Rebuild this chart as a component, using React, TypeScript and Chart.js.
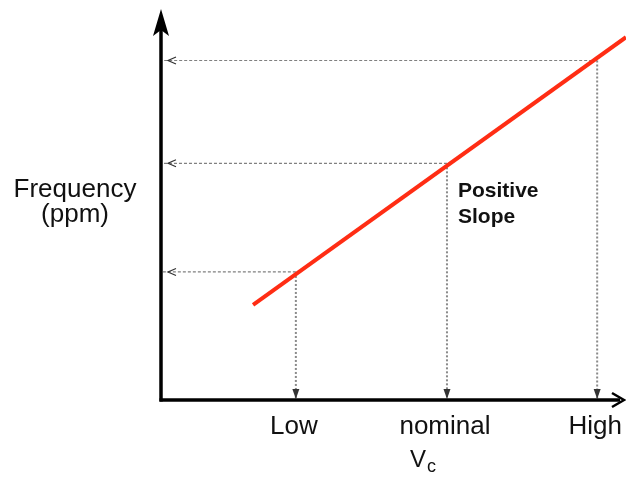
import React, { useEffect, useRef } from "react";
import { Chart, registerables } from "chart.js";

Chart.register(...registerables);

const lineX = [1.98, 10];
const lineY = [2.45, 9.35];
const markLabels = ["Low", "nominal", "High"];
const markX = [2.9, 6.15, 9.38];
const markY = [3.3, 6.1, 8.75];
const yTitle = ["Frequency", "(ppm)"];
const slopeText = ["Positive", "Slope"];

const FONT = "'Liberation Sans', Arial, sans-serif";

const diagramPlugin = {
  id: "diagram",
  beforeDatasetsDraw(chart: any) {
    const ctx = chart.ctx;
    const xs = chart.scales.x;
    const ys = chart.scales.y;
    const x0 = xs.getPixelForValue(0);
    const y0 = ys.getPixelForValue(0);
    ctx.save();
    for (let i = 0; i < markX.length; i++) {
      const px = xs.getPixelForValue(markX[i]);
      const py = ys.getPixelForValue(markY[i]);
      // horizontal to y axis
      ctx.strokeStyle = "#808080";
      ctx.lineWidth = 1.2;
      ctx.setLineDash([3, 2]);
      ctx.beginPath();
      ctx.moveTo(px, py);
      ctx.lineTo(x0 + 2, py);
      ctx.stroke();
      ctx.setLineDash([]);
      ctx.strokeStyle = "#333";
      ctx.beginPath();
      ctx.moveTo(x0 + 15, py - 3.5);
      ctx.lineTo(x0 + 7, py);
      ctx.lineTo(x0 + 15, py + 3.5);
      ctx.stroke();
      // vertical to x axis
      ctx.strokeStyle = "#8a8a8a";
      ctx.lineWidth = 2;
      ctx.setLineDash([2, 2]);
      ctx.beginPath();
      ctx.moveTo(px, py);
      ctx.lineTo(px, y0 - 2);
      ctx.stroke();
      ctx.setLineDash([]);
      ctx.fillStyle = "#333";
      ctx.beginPath();
      ctx.moveTo(px - 3.5, y0 - 11);
      ctx.lineTo(px + 3.5, y0 - 11);
      ctx.lineTo(px, y0 - 1);
      ctx.closePath();
      ctx.fill();
    }
    ctx.restore();
  },
  afterDatasetsDraw(chart: any) {
    const ctx = chart.ctx;
    const xs = chart.scales.x;
    const ys = chart.scales.y;
    const x0 = xs.getPixelForValue(0);
    const y0 = ys.getPixelForValue(0);
    const top = chart.chartArea.top;
    const right = chart.chartArea.right;
    ctx.save();
    // axes
    ctx.strokeStyle = "#000";
    ctx.fillStyle = "#000";
    ctx.lineWidth = 3.5;
    ctx.lineCap = "butt";
    ctx.beginPath();
    ctx.moveTo(x0, y0 + 1.5);
    ctx.lineTo(x0, top + 14);
    ctx.stroke();
    ctx.beginPath();
    ctx.moveTo(x0 - 1.5, y0);
    ctx.lineTo(right - 6, y0);
    ctx.stroke();
    // y arrow
    ctx.beginPath();
    ctx.moveTo(x0, top - 3);
    ctx.lineTo(x0 - 8, top + 24);
    ctx.lineTo(x0, top + 18);
    ctx.lineTo(x0 + 8, top + 24);
    ctx.closePath();
    ctx.fill();
    // x arrow
    ctx.lineWidth = 2.5;
    ctx.beginPath();
    ctx.moveTo(right - 14, y0 - 7);
    ctx.lineTo(right - 2, y0);
    ctx.lineTo(right - 14, y0 + 7);
    ctx.stroke();

    // labels
    ctx.fillStyle = "#111";
    ctx.font = `26px ${FONT}`;
    ctx.textAlign = "center";
    ctx.textBaseline = "alphabetic";
    for (let i = 0; i < markX.length; i++) {
      const px = xs.getPixelForValue(markX[i]);
      ctx.fillText(markLabels[i], px - 2, y0 + 34);
    }
    // Vc
    ctx.textAlign = "left";
    ctx.font = `24px ${FONT}`;
    ctx.fillText("V", 410, 467);
    ctx.font = `18px ${FONT}`;
    ctx.fillText("c", 427, 472);
    // y title
    ctx.textAlign = "center";
    ctx.font = `26px ${FONT}`;
    ctx.fillText(yTitle[0], 75, 197);
    ctx.fillText(yTitle[1], 75, 222);
    // slope text
    ctx.textAlign = "left";
    ctx.font = `bold 21px ${FONT}`;
    ctx.fillText(slopeText[0], 458, 197);
    ctx.fillText(slopeText[1], 458, 223);
    ctx.restore();
  },
};

export default function App() {
  const ref = useRef<HTMLCanvasElement | null>(null);
  useEffect(() => {
    if (!ref.current) return;
    const chart = new Chart(ref.current, {
      type: "scatter",
      data: {
        datasets: [
          {
            data: lineX.map((x, i) => ({ x, y: lineY[i] })),
            showLine: true,
            borderColor: "#ff2d14",
            borderWidth: 4,
            pointRadius: 0,
            clip: false as any,
          },
        ],
      },
      options: {
        responsive: false,
        animation: false,
        devicePixelRatio: 1,
        layout: { padding: { left: 161, right: 0, top: 12, bottom: 78 } },
        plugins: { legend: { display: false }, tooltip: { enabled: false } },
        scales: {
          x: { type: "linear", min: 0, max: 10, display: false },
          y: { type: "linear", min: 0, max: 10, display: false },
        },
      },
      plugins: [diagramPlugin],
    });
    return () => chart.destroy();
  }, []);
  return (
    <div style={{ position: "absolute", left: 0, top: 0, width: 626, height: 478, background: "#fff" }}>
      <canvas ref={ref} width={626} height={478} />
    </div>
  );
}
